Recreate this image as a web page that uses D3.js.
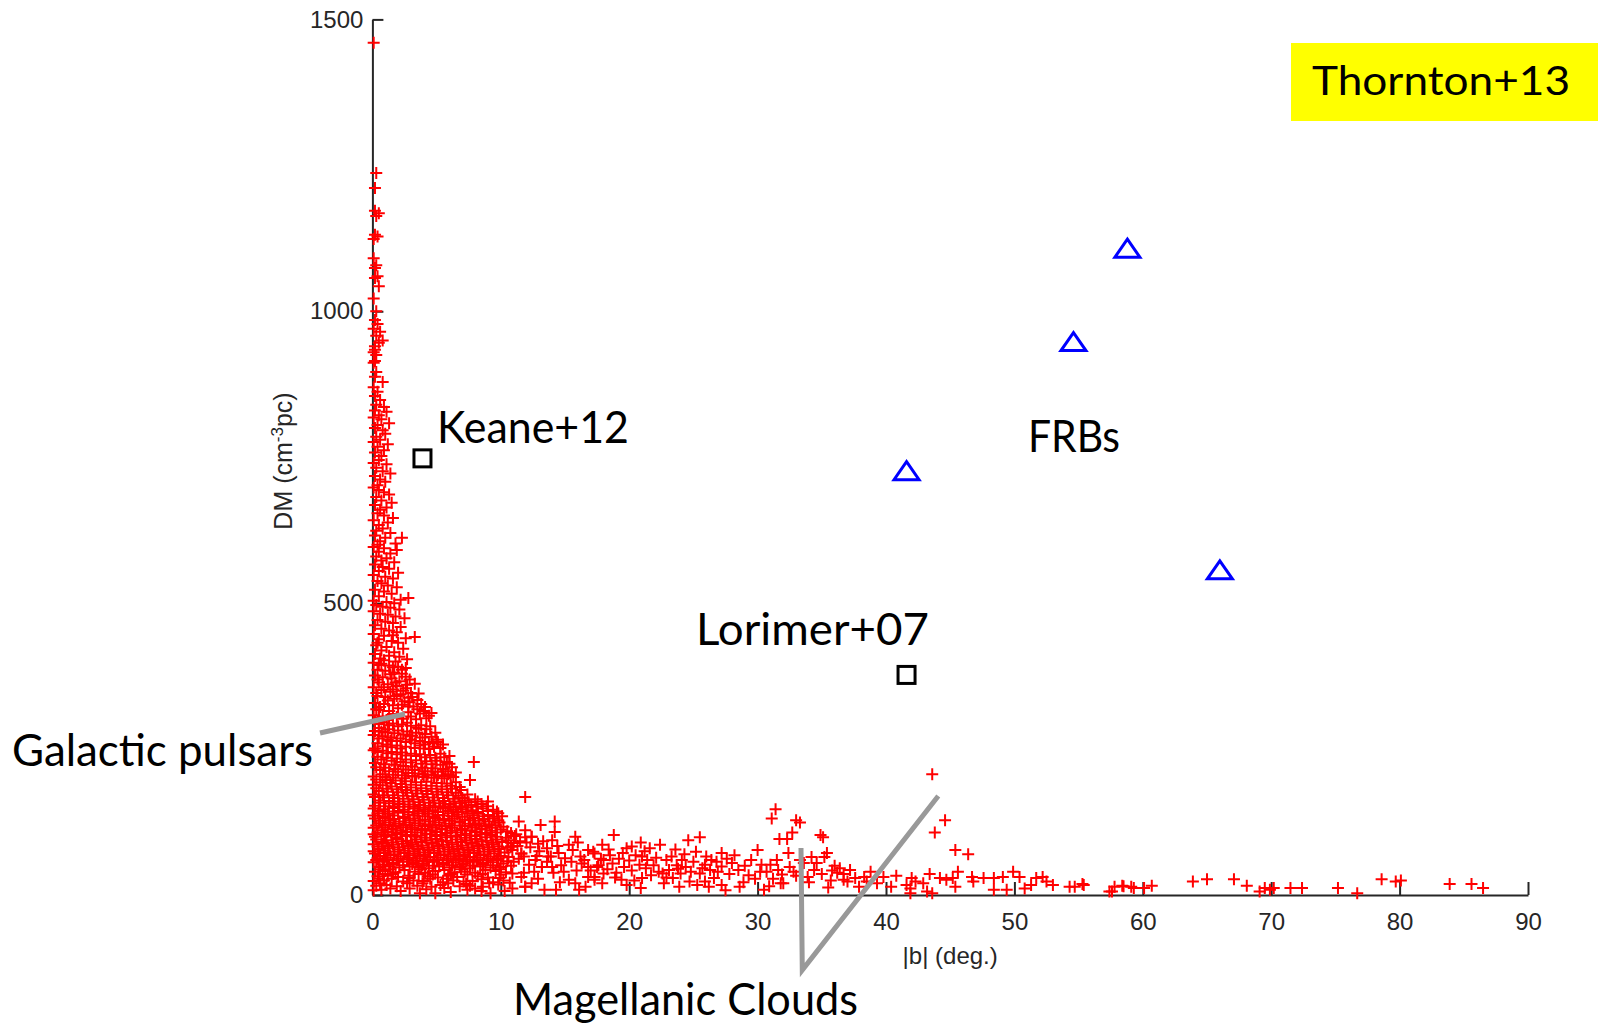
<!DOCTYPE html>
<html><head><meta charset="utf-8">
<script src="https://cdn.jsdelivr.net/npm/d3@7"></script>
<style>html,body{margin:0;padding:0;background:#fff;}svg{display:block;}</style>
</head><body>
<svg id="chart" width="1598" height="1025"></svg>
<script>
// ---------------- DATA ----------------
const xTicks = [0,10,20,30,40,50,60,70,80,90];
const yTicks = [0,500,1000,1500];
const xLabel = "|b| (deg.)";

// Galactic pulsars [|b| deg, DM]
const pulsarsHighDM = [
[0.1,1460],[0.3,1237],[0.2,1211],[0.2,1172],[0.5,1168],[0.3,1163],[0.2,1131],[0.1,1124],[0.4,1128],[0.1,1091],[0.3,1079],[0.2,1074],[0.4,1060],[0.2,1057],[0.5,1043],[0.1,1022],[0.3,1000],
[0.2,985],[0.4,978],[0.1,970],[0.6,965],[0.3,958],[0.8,950],[0.5,946],[0.2,940],[0.1,930],[0.3,925],[0.2,915],[0.2,934],[0.1,912],[0.3,896],[0.2,888],[0.8,879],[0.1,870],[0.4,862],[0.2,855],[0.6,848],[0.3,840],[0.9,836],[1.1,828],[0.2,830],[0.5,822],[0.7,815],[0.1,818],[1.3,808],[0.4,805],[0.2,800],[0.8,796],[1.0,790],[0.3,785],[0.6,780],[0.1,776],[1.2,772],[0.4,768],[0.9,762],[0.2,758],[0.7,752],[0.5,745],[0.1,740],[1.1,738],[0.3,732],[0.8,726],[1.4,722],[0.2,718],[0.6,712],[1.0,708],[0.4,702]
];
const pulsarsMidDM = [
[0.1,698],[0.5,694],[0.9,690],[1.3,686],[0.3,682],[0.7,676],[1.5,672],[0.2,668],[1.1,664],[0.6,660],[0.4,654],[0.9,650],[1.6,646],[0.1,642],[1.2,638],[0.5,634],[0.8,628],[0.3,624],[1.4,620],[0.2,616],[1.0,612],[0.6,606],[2.3,612],[1.8,602],[0.4,600],
[0.1,596],[0.9,594],[1.9,591],[0.5,588],[1.4,585],[0.3,580],[1.1,577],[0.7,573],[1.7,570],[0.2,566],[0.8,562],[1.3,559],[0.5,555],[2.0,552],[0.1,548],[1.0,545],[1.6,542],[0.4,538],[0.7,534],[1.2,530],[1.9,527],[0.2,523],[0.9,520],[1.5,516],[0.5,512],[2.8,509],[2.2,506],[0.1,504],[1.1,502],[1.7,500],
[0.3,497],[0.8,494],[1.4,492],[2.1,489],[0.1,486],[0.6,482],[1.2,480],[1.8,477],[2.5,474],[0.4,471],[1.0,468],[1.6,466],[0.2,462],[2.2,459],[0.7,456],[1.3,453],[1.9,450],[0.1,447],[0.9,444],[3.3,442],[2.6,440],[0.5,438],[1.5,435],[2.0,432],[0.3,428],[1.1,425],[2.4,422],[0.7,419],[1.7,416],[0.2,413],[1.3,410],[2.1,408],[0.6,405],[0.9,402],[1.8,400],[2.7,404],[0.4,432],[1.6,445],
[0.1,398],[0.7,396],[1.3,393],[2.0,391],[2.6,389],[0.4,386],[1.0,384],[1.7,381],[2.3,379],[0.2,376],[0.8,373],[1.5,371],[2.9,369],[2.1,366],[0.5,364],[3.3,362],[1.2,361],[1.9,358],[0.1,356],[2.6,354],[0.7,351],[1.4,348],[3.0,346],[2.2,344],[0.4,341],[1.0,339],[1.7,336],[3.5,334],[2.5,332],[0.2,329],[0.9,327],[1.6,325],[3.2,323],[4.1,322],[2.0,320],[0.5,317],[1.3,315],[2.8,313],[3.7,311],[4.6,312],[0.1,308],[0.8,306],[1.9,305],[2.4,302],[3.4,301],[4.2,303],[1.1,300],[0.3,318],[2.9,330],[3.8,327],[1.6,352],[3.6,345],
[0.5,394],[1.6,390],[2.3,386],[1.4,378],[2.6,374],[0.4,369],[1.8,364],[2.7,360],[0.9,356],[2.4,350],[0.3,346],[1.9,341],[2.8,338],[1.2,333],[3.1,339],[0.6,322],[2.3,326],[3.5,318],[1.6,310],[4.0,315],[3.0,306],[0.5,304],[2.8,323],[4.4,307]
];
const pulsarsLowDM = [
[0.2,298],[0.9,296],[1.6,294],[2.3,292],[3.0,290],[3.8,291],[4.5,289],[0.5,286],[1.2,284],[2.0,282],[2.7,280],[3.4,278],[4.1,276],[4.9,278],[0.1,274],[0.8,272],[1.5,270],[2.2,268],[3.0,266],[3.7,264],[4.4,262],[5.0,266],[0.4,260],[1.1,258],[1.9,256],[2.6,254],[3.3,252],[4.0,251],[4.8,254],[5.5,258],[0.2,251],[1.4,264],[2.9,273],[3.6,285],[0.7,280],[5.3,252],
[0.5,293],[1.3,291],[2.0,289],[2.7,295],[3.4,287],[4.2,284],[0.2,281],[1.0,279],[1.7,277],[2.4,275],[3.1,273],[3.9,270],[4.6,271],[0.5,268],[1.2,266],[1.9,264],[2.6,262],[3.3,260],[4.1,258],[4.7,260],[0.8,255],[1.5,253],[2.2,251],[3.7,256],[4.4,250],[5.1,262],
[0.1,248],[0.8,247],[1.5,245],[2.3,244],[3.0,242],[3.7,241],[4.5,240],[5.3,242],[6.0,238],[0.4,237],[1.1,235],[1.9,234],[2.6,232],[3.4,231],[4.2,229],[5.0,230],[5.8,228],[7.9,228],[0.2,226],[0.9,224],[1.7,223],[2.4,221],[3.1,220],[3.9,218],[4.7,217],[5.5,216],[6.2,219],[0.6,214],[1.3,212],[2.0,211],[2.8,209],[3.6,208],[4.3,206],[5.1,205],[5.9,207],[6.5,210],[0.1,203],[1.0,202],[1.6,201],[2.5,200],[3.3,203],[4.0,202],[4.8,201],[5.6,200],[6.3,202],
[0.4,245],[1.2,243],[1.9,241],[2.6,239],[3.4,238],[4.1,236],[4.9,235],[5.6,236],[0.7,232],[1.5,230],[2.2,228],[3.0,227],[3.8,225],[4.6,224],[5.3,223],[6.0,225],[0.3,219],[1.0,218],[1.8,216],[2.6,215],[3.3,214],[4.1,212],[4.9,211],[5.7,212],[0.8,207],[1.6,206],[2.3,205],[3.1,204],[3.9,207],[4.6,206],[5.4,204],[6.1,205],
[0.3,198],[1.1,197],[1.8,196],[2.6,195],[3.4,193],[4.2,194],[5.0,192],[5.8,191],[6.5,193],[7.6,197],[0.1,189],[0.8,188],[1.5,186],[2.3,185],[3.0,184],[3.8,183],[4.6,182],[5.4,181],[6.2,182],[6.9,180],[0.5,178],[1.2,177],[2.0,176],[2.7,175],[3.5,174],[4.3,173],[5.1,172],[5.9,171],[6.7,170],[7.4,172],[0.2,168],[0.9,167],[1.7,166],[2.4,165],[3.2,164],[4.0,163],[4.8,162],[5.6,161],[6.4,160],[7.2,162],[8.0,164],[0.6,158],[1.3,157],[2.1,156],[2.9,155],[3.7,154],[4.5,153],[5.3,152],[6.1,151],[6.9,152],[7.7,154],[8.5,156],[9.0,160],
[0.6,193],[1.4,192],[2.2,190],[3.0,189],[3.8,188],[4.6,187],[5.4,186],[6.1,187],[6.8,185],[0.3,183],[1.1,182],[1.9,181],[2.6,180],[3.4,179],[4.2,178],[5.0,177],[5.8,176],[6.5,175],[0.1,172],[0.8,171],[1.6,171],[2.4,170],[3.1,169],[3.9,168],[4.7,167],[5.5,166],[6.3,165],[7.0,166],[0.5,162],[1.3,161],[2.0,160],[2.8,160],[3.6,159],[4.4,158],[5.2,157],[6.0,156],[6.8,157],[7.5,159],[8.2,160],[0.2,153],[1.0,152],[1.7,152],[2.5,151],[3.3,151],[4.1,150],[4.9,150],[5.7,149],[6.5,150],[7.3,150],[8.1,151],[8.9,152],
[0.1,148],[0.9,147],[1.6,149],[2.4,146],[3.2,148],[4.0,147],[4.7,145],[5.5,148],[6.3,146],[7.0,147],[7.8,145],[8.6,148],[9.4,146],
[0.4,140],[1.2,139],[2.0,141],[2.8,138],[3.5,140],[4.3,139],[5.1,137],[5.9,140],[6.6,138],[7.4,140],[8.2,139],[9.0,137],[9.8,140],[10.1,135],
[0.2,131],[1.0,132],[1.7,130],[2.5,132],[3.3,131],[4.1,129],[4.9,132],[5.6,130],[6.4,131],[7.2,129],[7.9,132],[8.7,130],[9.5,131],
[0.5,123],[1.3,124],[2.1,122],[2.9,124],[3.6,123],[4.4,121],[5.2,124],[6.0,122],[6.8,124],[7.5,122],[8.3,123],[9.1,121],[9.9,124],
[0.1,115],[0.8,116],[1.6,114],[2.4,116],[3.1,115],[3.9,113],[4.7,116],[5.4,114],[6.2,115],[7.0,113],[7.8,116],[8.5,114],[9.3,115],[10.2,117],
[0.4,107],[1.2,108],[1.9,106],[2.7,108],[3.5,107],[4.2,105],[5.0,108],[5.8,106],[6.6,107],[7.3,105],[8.1,108],[8.9,106],[9.7,107],[10.5,109],[11.2,104],
[0.2,100],[1.0,101],[1.8,99],[2.6,101],[3.3,100],[4.1,98],[4.9,101],[5.7,99],[6.5,100],[7.2,98],[8.0,101],[8.8,99],[9.6,100],[10.4,98],[11.1,101],[11.9,99],
[0.5,144],[1.3,143],[2.0,144],[2.8,142],[3.6,144],[4.4,143],[5.1,142],[5.9,144],[6.7,142],[7.4,143],[8.2,142],[9.0,144],[9.7,143],
[0.1,136],[0.8,135],[1.6,136],[2.4,134],[3.2,136],[3.9,135],[4.7,134],[5.5,136],[6.2,135],[7.0,134],[7.8,136],[8.6,135],[9.4,134],
[0.6,127],[1.4,128],[2.1,126],[2.9,128],[3.7,127],[4.5,126],[5.2,128],[6.0,127],[6.8,126],[7.6,128],[8.3,127],[9.1,126],[9.8,128],
[0.3,119],[1.0,120],[1.8,118],[2.6,120],[3.3,119],[4.1,118],[4.9,120],[5.7,118],[6.4,119],[7.2,118],[8.0,120],[8.8,118],[9.6,119],
[0.7,111],[1.5,112],[2.2,110],[3.0,112],[3.8,111],[4.6,110],[5.4,112],[6.1,110],[6.9,111],[7.7,110],[8.5,112],[9.3,110],[10.0,112],
[0.1,104],[0.9,104],[1.5,103],[2.3,104],[3.0,103],[3.8,102],[4.5,104],[5.3,103],[6.1,102],[6.9,103],[7.6,102],[8.4,104],[9.2,103],[10.8,106]
];
const pulsarsNearZero = [
[0.3,95],[1.1,94],[1.9,96],[2.7,93],[3.4,95],[4.2,94],[5.0,96],[5.8,93],[6.6,95],[7.3,94],[8.1,96],[8.9,93],[9.7,95],[10.6,94],[11.5,92],[12.4,100],
[0.1,87],[0.8,88],[1.6,86],[2.4,88],[3.1,87],[3.9,85],[4.7,88],[5.5,86],[6.2,87],[7.0,85],[7.8,88],[8.6,86],[9.4,87],[10.8,83],[12.9,88],
[0.5,79],[1.3,80],[2.1,78],[2.8,80],[3.6,79],[4.4,77],[5.2,80],[6.0,78],[6.7,79],[7.5,77],[8.3,80],[9.1,78],[9.9,79],[11.6,71],[13.6,80],
[0.2,71],[1.0,72],[1.7,70],[2.5,72],[3.3,71],[4.1,69],[4.8,72],[5.6,70],[6.4,71],[7.2,69],[7.9,72],[8.7,70],[9.5,71],[10.3,73],[12.7,60],
[0.4,63],[1.2,64],[2.0,62],[2.8,64],[3.5,63],[4.3,61],[5.1,64],[5.9,62],[6.7,63],[7.4,61],[8.2,64],[9.0,62],[9.8,63],[10.6,65],[11.4,62],[13.9,66],
[0.1,56],[0.9,57],[1.6,55],[2.4,57],[3.2,56],[4.0,54],[4.8,57],[5.5,55],[6.3,56],[7.1,54],[7.9,57],[8.6,55],[9.4,56],[10.2,54],[11.0,57],[12.2,52],
[0.5,48],[1.3,49],[2.1,47],[2.9,49],[3.6,48],[4.4,46],[5.2,49],[6.0,47],[6.8,48],[7.6,46],[8.4,49],[9.2,47],[10.0,48],[11.8,38],[13.2,48],
[0.2,40],[1.0,41],[1.8,39],[3.3,40],[4.1,38],[4.9,41],[6.4,39],[7.2,40],[8.0,38],[9.6,41],[10.4,39],
[0.4,32],[1.2,33],[2.0,31],[2.8,33],[4.3,32],[5.1,30],[5.9,33],[6.6,31],[8.2,32],[9.0,30],[10.9,37],[11.6,31],
[0.1,24],[0.9,25],[2.4,23],[3.2,25],[4.0,24],[5.5,22],[6.3,25],[7.1,23],[7.8,24],[9.4,22],[10.2,25],
[0.3,16],[1.1,17],[1.9,15],[3.5,16],[4.6,14],[5.3,17],[6.8,15],[7.6,16],[8.6,14],[9.8,18],[11.9,14],
[0.1,8],[0.7,9],[2.2,7],[3.7,3],[4.9,3],[6.1,5],[7.4,9],[8.5,7],[9.2,3],[10.3,7],[13.4,9],
[0.7,91],[1.5,90],[2.3,92],[3.0,90],[3.8,91],[4.6,90],[5.4,92],[6.2,90],[6.9,91],[7.7,90],[8.5,92],[9.3,90],[10.1,91],[11.0,89],
[0.4,83],[1.2,84],[2.0,82],[2.8,84],[3.5,83],[4.3,81],[5.1,84],[5.9,82],[6.6,83],[7.4,81],[8.2,84],[9.0,82],[9.8,83],[10.5,81],[11.3,84],
[0.1,75],[0.9,76],[1.7,74],[2.5,76],[3.2,75],[4.0,73],[4.8,76],[5.6,74],[6.3,75],[7.1,73],[7.9,76],[8.7,74],[9.5,75],[10.9,77],
[0.6,67],[1.4,68],[2.2,66],[2.9,68],[3.7,67],[4.5,65],[5.3,68],[6.1,66],[6.8,67],[7.6,65],[8.4,68],[9.2,66],[10.0,67],[11.8,66],
[0.3,60],[1.1,60],[1.9,59],[2.7,61],[3.4,59],[4.2,58],[5.0,60],[5.8,59],[6.5,60],[7.3,58],[8.1,60],[8.9,59],[9.7,60],[10.5,58],
[0.8,52],[1.6,52],[2.4,51],[3.1,53],[3.9,51],[4.7,50],[5.5,52],[6.2,51],[7.0,52],[7.8,50],[8.6,52],[9.4,51],[10.8,50],
[0.6,44],[1.4,44],[2.5,43],[3.8,44],[5.6,43],[6.9,44],[8.8,43],[9.9,44],
[0.8,36],[1.6,36],[3.6,36],[4.7,35],[6.1,36],[7.4,35],[8.6,36],[10.0,35],
[0.5,28],[1.5,28],[2.9,29],[4.5,28],[5.8,28],[8.5,27],[9.9,29],
[0.6,20],[2.7,20],[3.9,20],[5.9,20],[7.3,19],[9.1,20],[10.7,21],
[1.4,11],[2.9,11],[4.2,10],[5.6,12],[8.0,11],[10.9,11]
];
const pulsarsTail = [
[11.9,168],[11.4,126],[13.1,120],[14.2,126],[11.9,111],[12.4,100],[14.2,108],[14.0,94],[15.8,100],[15.3,86],[16.8,77],[17.3,71],[18.0,60],[10.8,83],[11.6,71],[13.2,48],[14.0,48],[14.7,51],[15.5,57],[16.3,54],[16.8,48],[17.6,51],[15.3,26],[15.8,20],[16.8,31],[16.6,14],[17.3,26],[11.9,14],[12.3,82],[13.0,75],[13.7,66],[14.5,72],[15.0,63],[14.1,38],[12.6,40],[15.9,42],[16.2,66],[12.9,28],[14.6,22],[13.6,57],
[17.2,74],[17.8,62],[17.5,48],[18.5,68],[18.7,54],[18.0,37],[17.3,31],[19.2,62],[19.6,48],[19.4,26],[19.8,17],[18.8,103],[19.8,80],[20.2,83],[20.0,59],[20.5,68],[20.2,42],[21.6,80],[21.0,66],[21.4,60],[21.3,46],[21.9,51],[21.7,34],[21.0,29],[22.7,20],[22.3,40],[18.3,44],[20.8,52],[19.0,38],
[22.9,60],[23.3,66],[23.7,51],[23.1,43],[22.6,37],[23.4,29],[24.0,37],[24.6,94],[25.5,99],[25.0,57],[25.5,37],[24.7,23],[25.9,23],[27.2,72],[26.8,57],[27.2,49],[26.3,43],[26.6,29],[27.2,17],[26.2,14],[25.3,17],[28.5,43],[29.3,34],[30.0,77],[28.6,14],[24.4,48],[25.9,52],[28.0,55],[27.8,36],[29.0,50],[24.1,60],[26.0,66],[23.8,45],
[12.0,90],[12.8,67],[13.3,92],[14.4,84],[14.9,40],[15.6,77],[16.0,90],[16.5,60],[17.0,42],[17.9,86],[18.4,78],[18.9,30],[19.5,72],[20.4,25],[20.9,90],[21.2,75],[22.1,64],[22.4,86],[22.9,30],[23.6,78],[24.3,70],[24.8,40],[25.2,74],[25.7,46],[26.4,60],[26.9,40],[27.6,62],[28.2,68],[28.9,22],[29.5,60],[30.2,40],[31.0,52],[31.8,20],[32.8,40],[33.3,60],[34.2,65],[35.8,42],[12.4,20],[14.3,9],[16.1,9],[17.9,20],[20.9,12],[23.9,14],[27.5,8],
[31.4,147],[31.1,131],[33.0,128],[33.3,124],[32.7,107],[31.7,96],[32.3,96],[32.4,72],[34.9,103],[35.1,99],[35.4,72],[35.2,65],[30.7,40],[31.2,28],[31.6,43],[32.0,20],[32.5,48],[31.9,35],[30.9,15],[33.0,33],[34.4,43],[35.0,36],[35.7,25],[36.2,38],[36.7,26],[35.5,13],[33.6,55],[34.0,22],[30.3,52],[31.5,60],[33.9,31],[34.6,55],[36.0,50],[29.8,28],[30.5,9],
[36.7,36],[37.2,43],[37.6,29],[38.3,31],[38.5,23],[37.0,23],[36.4,46],[37.9,14],[38.8,40],[39.3,20],
[39.8,31],[40.8,33],[40.4,14],[42.0,29],[41.9,11],[42.3,23],[41.9,3],[43.6,3],[42.9,20],[43.4,36],[44.2,29],[44.7,26],[45.2,29],[45.4,14],[45.6,40],[46.7,31],[46.8,23],[47.6,29],[48.4,29],[48.4,9],[49.1,31],[49.4,9],[49.9,40],[50.4,31],[50.8,11],[51.3,17],[51.7,29],[52.2,31],[52.5,23],[53.0,17],[54.3,14],[54.7,14],[55.4,17],[57.4,6],[57.8,14],[58.5,15],[59.1,14],[43.6,207],[44.6,128],[43.8,107],[45.4,77],[46.4,70],[41.6,17],[43.2,6],
[55.3,19],[57.6,6],[58.4,16],[59.3,12],[60.1,12],[60.7,16],[63.9,23],[65.0,27],[67.1,27],[68.1,16],[69.1,6],[69.5,12],[69.9,9],[70.2,12],[71.5,12],[72.4,12],[75.2,12],[76.7,3],[78.6,27],[79.7,23],[80.1,25],[83.9,19],[85.6,19],[86.5,12]
];
// Earlier bursts (squares): Keane+12, Lorimer+07
const earlierBursts = [[3.9,748],[41.6,377]];
// Thornton+13 FRBs (triangles)
const frbs = [[58.8,1108],[54.6,948],[41.6,727],[66.0,557]];

// ---------------- CHART ----------------
const svg = d3.select("#chart");
const x = d3.scaleLinear().domain([0,90]).range([372.4,1528]);
const y = d3.scaleLinear().domain([0,1500]).range([895,19.4]);
const axisColor = "#262626";
const tickFont = "'Liberation Sans', Arial, sans-serif";

// axes
const gx = svg.append("g").attr("transform","translate(0,895)")
  .call(d3.axisBottom(x).tickValues(xTicks).tickSizeInner(-13).tickSizeOuter(0).tickPadding(18).tickFormat(d3.format("d")));
const gy = svg.append("g").attr("transform","translate(372.4,0)")
  .call(d3.axisLeft(y).tickValues(yTicks).tickSizeInner(-11).tickSizeOuter(0).tickPadding(9).tickFormat(d3.format("d")));
[gx,gy].forEach(g=>{
  g.select(".domain").attr("stroke",axisColor).attr("stroke-width",2);
  g.selectAll(".tick line").attr("stroke",axisColor).attr("stroke-width",2);
  g.selectAll(".tick text").attr("fill",axisColor).style("font-family",tickFont).style("font-size","24px");
});

// axis labels
svg.append("text").attr("x",(x(0)+x(90))/2).attr("y",964).attr("text-anchor","middle")
  .style("font-family",tickFont).style("font-size","24px").attr("fill",axisColor).text(xLabel);
const yl = svg.append("text").attr("transform","translate(292,461) rotate(-90)").attr("text-anchor","middle")
  .style("font-family",tickFont).style("font-size","25px").attr("fill",axisColor);
yl.append("tspan").text("DM (cm");
yl.append("tspan").attr("baseline-shift","super").style("font-size","17px").text("-3");
yl.append("tspan").text("pc)");

// pulsars (+)
const allPulsars = [].concat(pulsarsHighDM,pulsarsMidDM,pulsarsLowDM,pulsarsNearZero,pulsarsTail);
const h = 6;
svg.append("g").selectAll("path").data(allPulsars).join("path")
  .attr("d",d=>{const cx=x(d[0]),cy=y(d[1]);return `M${cx-h},${cy}H${cx+h}M${cx},${cy-h}V${cy+h}`;})
  .attr("stroke","#ff0000").attr("stroke-width",2).attr("fill","none");

// squares
svg.append("g").selectAll("rect").data(earlierBursts).join("rect")
  .attr("x",d=>x(d[0])-8.5).attr("y",d=>y(d[1])-8.5).attr("width",17).attr("height",17)
  .attr("fill","none").attr("stroke","#000").attr("stroke-width",3);

// triangles
svg.append("g").selectAll("path").data(frbs).join("path")
  .attr("d",d=>{const cx=x(d[0]),cy=y(d[1]);return `M${cx},${cy-9}L${cx+12.5},${cy+9}L${cx-12.5},${cy+9}Z`;})
  .attr("fill","none").attr("stroke","#0000ff").attr("stroke-width",3).attr("stroke-linejoin","miter");

// annotation lines (data units)
const gray = "#999999";
const line = d3.line().x(d=>x(d[0])).y(d=>y(d[1]));
svg.append("path").attr("d",line([[-4.08,277.5],[2.54,310.1]])).attr("stroke",gray).attr("stroke-width",5).attr("fill","none");
svg.append("path").attr("d",line([[33.38,80.5],[33.48,-128.5],[44.07,169.6]])).attr("stroke",gray).attr("stroke-width",5).attr("fill","none").attr("stroke-linejoin","miter");

// annotation texts
const annFont = "Lato, 'Open Sans', sans-serif";
svg.append("rect").attr("x",1291).attr("y",43).attr("width",307).attr("height",78).attr("fill","#ffff00");
const anns = [
  {t:"Thornton+13", x:1312, y:95, w:258, s:41},
  {t:"Keane+12", x:437, y:443, w:192, s:44},
  {t:"FRBs", x:1028, y:452, w:92, s:44},
  {t:"Lorimer+07", x:696, y:645, w:233, s:44},
  {t:"Galactic pulsars", x:12, y:766, w:301, s:44},
  {t:"Magellanic Clouds", x:513, y:1015, w:345, s:44}
];
svg.append("g").selectAll("text").data(anns).join("text")
  .attr("x",d=>d.x).attr("y",d=>d.y).attr("textLength",d=>d.w).attr("lengthAdjust","spacingAndGlyphs")
  .style("font-family",annFont).style("font-size",d=>d.s+"px").attr("fill","#000").text(d=>d.t);
</script>
</body></html>
